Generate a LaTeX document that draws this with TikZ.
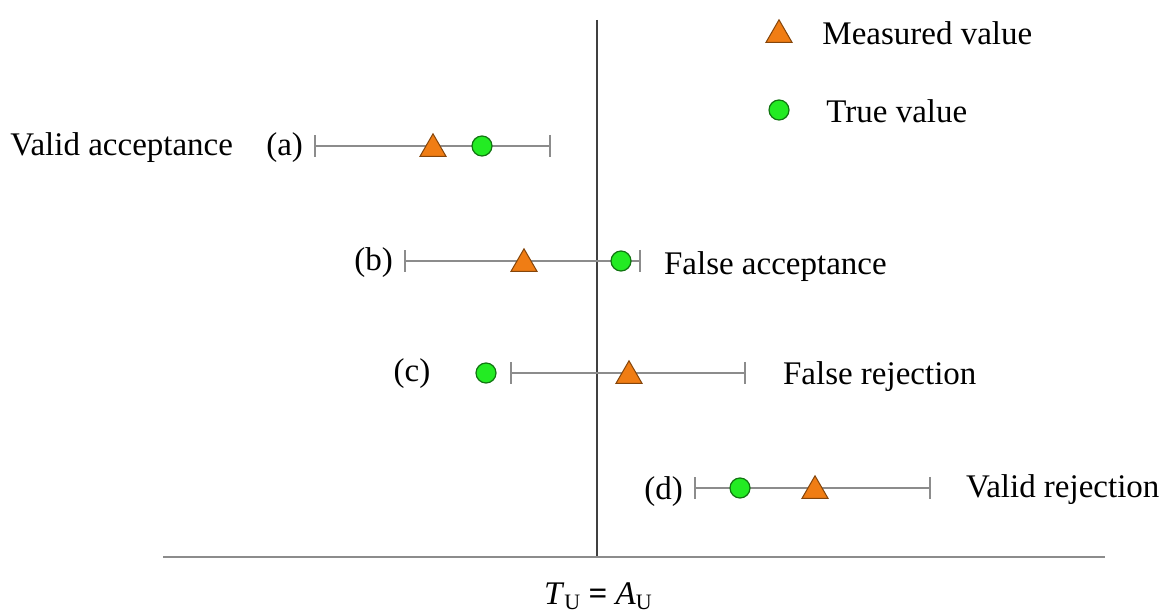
\documentclass[tikz,border=0pt]{standalone}
\usepackage{fontspec}
\setmainfont{Liberation Serif}
\usepackage{xcolor}
\definecolor{measured}{RGB}{240, 125, 20}
\definecolor{truegreen}{RGB}{35, 235, 35}
\usepackage{tikz}
\usetikzlibrary{arrows.meta, shapes.geometric, positioning}

\newcommand{\subU}{\raisebox{-0.35ex}{\fontsize{11}{12}\selectfont U}}

\begin{document}
\begin{tikzpicture}[x=0.5pt, y=-0.5pt,
  every node/.style={font=\fontsize{16.5}{20}\selectfont},
  meas/.style={regular polygon, regular polygon sides=3, inner sep=0pt, minimum size=15pt,
    fill=measured, draw=measured!55!black, line width=0.5pt, yshift=-1.4pt},
  truev/.style={circle, inner sep=0pt, minimum size=10pt,
    fill=truegreen, draw=truegreen!50!black, line width=0.6pt},
  errbar/.style={draw=black!45, line width=1pt, {Bar[width=11pt]}-{Bar[width=11pt]}}]
  \useasboundingbox (0,0) rectangle (1171,613);
  % 极限线与基线
  \coordinate (lim-top) at (597,20);
  \coordinate (lim-bot) at (597,557);
  \coordinate (base-l) at (163,557);
  \coordinate (base-r) at (1105,557);
  \draw[black!75, line width=0.7pt] (lim-top) -- (lim-bot);
  \draw[black!45, line width=1pt] (base-l) -- (base-r);
  \node (limit) at (598,596) {\textit{T}\subU\ \textbf{=} \textit{A}\subU};
  % 图例
  \node[meas] (leg-meas) at (779,32) {};
  \node[anchor=west, inner sep=0pt] (leg-meas-txt) at (822,33) {Measured value};
  \node[truev] (leg-true) at (779,110) {};
  \node[anchor=west, inner sep=0pt] (leg-true-txt) at (826,111) {True value};
  % (a)
  \coordinate (a-lo) at (314,146);
  \coordinate (a-hi) at (551,146);
  \draw[errbar] (a-lo) -- (a-hi);
  \node[meas] (a-meas) at (433,146) {};
  \node[truev] (a-true) at (482,146) {};
  \node[left=2pt of a-lo, yshift=-1pt] (a-lab) {(a)};
  \node[anchor=west, inner sep=0pt] (a-txt) at (10,148) {Valid acceptance};
  % (b)
  \coordinate (b-lo) at (404,261);
  \coordinate (b-hi) at (641,261);
  \draw[errbar] (b-lo) -- (b-hi);
  \node[meas] (b-meas) at (524,261) {};
  \node[truev] (b-true) at (621,261) {};
  \node[left=2pt of b-lo, yshift=-1pt] (b-lab) {(b)};
  \node[right=8pt of b-hi, yshift=-3pt] (b-txt) {False acceptance};
  % (c)
  \coordinate (c-lo) at (510,373);
  \coordinate (c-hi) at (746,373);
  \draw[errbar] (c-lo) -- (c-hi);
  \node[meas] (c-meas) at (629,373) {};
  \node[truev] (c-true) at (486,373) {};
  \node (c-lab) at (412,374) {(c)};
  \node[right=15pt of c-hi, yshift=-2pt] (c-txt) {False rejection};
  % (d)
  \coordinate (d-lo) at (694,488);
  \coordinate (d-hi) at (931,488);
  \draw[errbar] (d-lo) -- (d-hi);
  \node[meas] (d-meas) at (815,488) {};
  \node[truev] (d-true) at (740,488) {};
  \node[left=2pt of d-lo, yshift=-2pt] (d-lab) {(d)};
  \node[right=14pt of d-hi, yshift=-1pt] (d-txt) {Valid rejection};
\end{tikzpicture}
\end{document}
